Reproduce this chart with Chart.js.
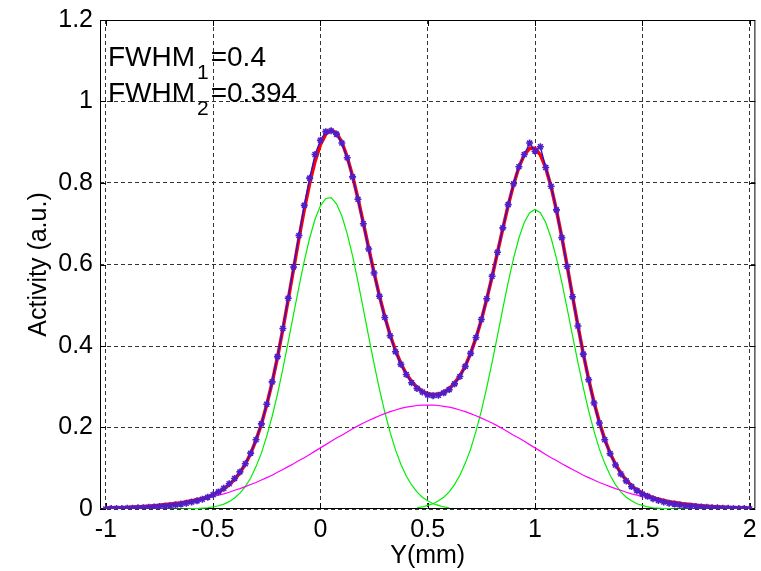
<!DOCTYPE html>
<html>
<head>
<meta charset="utf-8">
<title>Activity profile</title>
<script src="https://cdn.jsdelivr.net/npm/chart.js@4.4.1/dist/chart.umd.min.js"></script>
<style>
  html, body { margin: 0; padding: 0; background: #fff; }
  canvas { display: block; }
</style>
</head>
<body>
<canvas id="profile" width="761" height="571"></canvas>
<script>
// sampling grid of the profile (mm)
const gridStart = -1;
const gridStep = 0.025;

// measured activity, one value per grid step from -1 to 2
const measured = [
  0.000, 0.001, 0.001, 0.001, 0.002, 0.002, 0.003, 0.003, 0.004, 0.005,
  0.006, 0.007, 0.008, 0.010, 0.012, 0.014, 0.017, 0.020, 0.024, 0.029,
  0.035, 0.042, 0.051, 0.062, 0.075, 0.091, 0.111, 0.137, 0.170, 0.209,
  0.257, 0.312, 0.374, 0.443, 0.517, 0.594, 0.671, 0.745, 0.812, 0.870,
  0.905, 0.926, 0.928, 0.920, 0.898, 0.862, 0.815, 0.760, 0.700, 0.638,
  0.579, 0.522, 0.470, 0.425, 0.386, 0.355, 0.330, 0.310, 0.296, 0.287,
  0.280, 0.278, 0.279, 0.285, 0.293, 0.307, 0.325, 0.350, 0.382, 0.421,
  0.465, 0.516, 0.571, 0.630, 0.690, 0.747, 0.798, 0.840, 0.870, 0.898,
  0.878, 0.889, 0.838, 0.792, 0.734, 0.666, 0.595, 0.521, 0.449, 0.380,
  0.317, 0.260, 0.211, 0.170, 0.136, 0.108, 0.086, 0.069, 0.055, 0.045,
  0.037, 0.031, 0.025, 0.021, 0.017, 0.014, 0.012, 0.010, 0.008, 0.007,
  0.006, 0.005, 0.004, 0.003, 0.003, 0.002, 0.002, 0.001, 0.001, 0.001,
  0.000
];

// total fit, same grid
const fitTotal = [
  0.002, 0.003, 0.003, 0.003, 0.004, 0.005, 0.005, 0.006, 0.007, 0.008,
  0.009, 0.011, 0.012, 0.014, 0.015, 0.018, 0.020, 0.023, 0.026, 0.030,
  0.035, 0.042, 0.049, 0.060, 0.072, 0.089, 0.110, 0.136, 0.169, 0.208,
  0.256, 0.310, 0.372, 0.441, 0.514, 0.589, 0.664, 0.735, 0.799, 0.853,
  0.894, 0.920, 0.930, 0.923, 0.900, 0.864, 0.817, 0.762, 0.702, 0.640,
  0.580, 0.523, 0.472, 0.427, 0.389, 0.357, 0.332, 0.313, 0.299, 0.289,
  0.283, 0.281, 0.282, 0.287, 0.295, 0.309, 0.327, 0.351, 0.382, 0.420,
  0.464, 0.515, 0.570, 0.629, 0.688, 0.745, 0.796, 0.839, 0.869, 0.885,
  0.885, 0.869, 0.837, 0.791, 0.733, 0.667, 0.596, 0.522, 0.450, 0.381,
  0.318, 0.262, 0.213, 0.171, 0.137, 0.110, 0.088, 0.071, 0.057, 0.047,
  0.039, 0.033, 0.028, 0.024, 0.021, 0.018, 0.016, 0.014, 0.012, 0.011,
  0.009, 0.008, 0.007, 0.006, 0.005, 0.005, 0.004, 0.003, 0.003, 0.003,
  0.002
];

// broad background component, same grid
const background = [
  0.002, 0.003, 0.003, 0.003, 0.004, 0.005, 0.005, 0.006, 0.007, 0.008,
  0.009, 0.011, 0.012, 0.014, 0.015, 0.017, 0.019, 0.022, 0.024, 0.027,
  0.030, 0.034, 0.037, 0.041, 0.046, 0.050, 0.055, 0.060, 0.065, 0.071,
  0.077, 0.083, 0.090, 0.097, 0.104, 0.111, 0.119, 0.126, 0.134, 0.142,
  0.150, 0.158, 0.166, 0.174, 0.181, 0.189, 0.197, 0.204, 0.211, 0.217,
  0.223, 0.229, 0.234, 0.239, 0.243, 0.247, 0.250, 0.252, 0.254, 0.255,
  0.255, 0.255, 0.254, 0.252, 0.250, 0.247, 0.243, 0.239, 0.234, 0.229,
  0.223, 0.217, 0.211, 0.204, 0.197, 0.189, 0.181, 0.174, 0.166, 0.158,
  0.150, 0.142, 0.134, 0.126, 0.119, 0.111, 0.104, 0.097, 0.090, 0.083,
  0.077, 0.071, 0.065, 0.060, 0.055, 0.050, 0.046, 0.041, 0.037, 0.034,
  0.030, 0.027, 0.024, 0.022, 0.019, 0.017, 0.015, 0.014, 0.012, 0.011,
  0.009, 0.008, 0.007, 0.006, 0.005, 0.005, 0.004, 0.003, 0.003, 0.003,
  0.002
];

// first peak component, grid from -1 to 0.6
const peak1Start = -1;
const peak1 = [
  0.000, 0.000, 0.000, 0.000, 0.000, 0.000, 0.000, 0.000, 0.000, 0.000,
  0.000, 0.000, 0.000, 0.000, 0.000, 0.000, 0.001, 0.001, 0.002, 0.003,
  0.005, 0.008, 0.012, 0.018, 0.027, 0.039, 0.055, 0.076, 0.104, 0.137,
  0.179, 0.227, 0.282, 0.344, 0.410, 0.478, 0.545, 0.609, 0.665, 0.711,
  0.744, 0.762, 0.764, 0.749, 0.719, 0.675, 0.621, 0.558, 0.491, 0.423,
  0.357, 0.294, 0.238, 0.188, 0.145, 0.110, 0.081, 0.059, 0.042, 0.029,
  0.020, 0.013, 0.009, 0.005, 0.003
];

// second peak component, grid from 0.45 to 2
const peak2Start = 0.45;
const peak2 = [
  0.003, 0.005, 0.009, 0.013, 0.020, 0.029, 0.042, 0.060, 0.083, 0.112,
  0.147, 0.191, 0.241, 0.298, 0.360, 0.425, 0.492, 0.556, 0.615, 0.665,
  0.703, 0.727, 0.735, 0.727, 0.703, 0.665, 0.615, 0.556, 0.492, 0.425,
  0.360, 0.298, 0.241, 0.191, 0.147, 0.112, 0.083, 0.060, 0.042, 0.029,
  0.020, 0.013, 0.009, 0.005, 0.003, 0.002, 0.001, 0.001, 0.000, 0.000,
  0.000, 0.000, 0.000, 0.000, 0.000, 0.000, 0.000, 0.000, 0.000, 0.000,
  0.000, 0.000, 0.000
];

const xTickValues = [-1, -0.5, 0, 0.5, 1, 1.5, 2];
const xTickLabels = ['-1', '-0.5', '0', '0.5', '1', '1.5', '2'];
const yTickValues = [0, 0.2, 0.4, 0.6, 0.8, 1, 1.2];
const yTickLabels = ['0', '0.2', '0.4', '0.6', '0.8', '1', '1.2'];

const widths = [
  { sub: '1', text: '=0.4' },
  { sub: '2', text: '=0.394' }
];

const FONT = '"Liberation Sans", Arial, sans-serif';

function onGrid(values, first) {
  return values.map((v, i) => ({ x: first + i * gridStep, y: v }));
}

function line(data, color, width) {
  return {
    data: data,
    borderColor: color,
    borderWidth: width,
    pointRadius: 0,
    fill: false,
    tension: 0
  };
}

// box, inward ticks on all four sides, and the FWHM text
const matlabAxes = {
  id: 'matlabAxes',
  beforeDatasetsDraw(chart) {
    const { ctx, chartArea: a, scales: { x, y } } = chart;
    const t = 6;
    ctx.save();
    ctx.strokeStyle = '#000';
    ctx.lineWidth = 1;
    ctx.setLineDash([]);
    ctx.beginPath();
    ctx.rect(a.left + 0.5, a.top + 0.5, a.right - a.left - 1, a.bottom - a.top - 1);
    xTickValues.forEach(v => {
      const px = Math.round(x.getPixelForValue(v)) + 0.5;
      ctx.moveTo(px, a.bottom);
      ctx.lineTo(px, a.bottom - t);
      ctx.moveTo(px, a.top);
      ctx.lineTo(px, a.top + t);
    });
    yTickValues.forEach(v => {
      const py = Math.round(y.getPixelForValue(v)) + 0.5;
      ctx.moveTo(a.left, py);
      ctx.lineTo(a.left + t, py);
      ctx.moveTo(a.right, py);
      ctx.lineTo(a.right - t, py);
    });
    ctx.stroke();
    ctx.restore();
  },
  afterDatasetsDraw(chart) {
    const { ctx, scales: { x, y } } = chart;
    const left = x.getPixelForValue(-0.99);
    const rows = [1.088, 1.0];
    ctx.save();
    ctx.fillStyle = '#000';
    ctx.textBaseline = 'alphabetic';
    ctx.textAlign = 'left';
    widths.forEach((w, i) => {
      const base = y.getPixelForValue(rows[i]);
      ctx.font = '28px ' + FONT;
      ctx.fillText('FWHM', left, base);
      let cx = left + ctx.measureText('FWHM').width + 2;
      ctx.font = '21px ' + FONT;
      ctx.fillText(w.sub, cx, base + 13);
      cx += ctx.measureText(w.sub).width + 2;
      ctx.font = '28px ' + FONT;
      ctx.fillText(w.text, cx, base);
    });
    ctx.restore();
  }
};

const tickFont = { family: FONT, size: 25 };

new Chart(document.getElementById('profile'), {
  type: 'line',
  data: {
    datasets: [
      Object.assign(line(onGrid(measured, gridStart), 'rgb(30,20,235)', 1.3), {
        pointStyle: 'star',
        pointRadius: 3.5,
        pointBorderColor: 'rgb(80,30,200)',
        pointBorderWidth: 1.6
      }),
      line(onGrid(fitTotal, gridStart), '#ff0000', 3.5),
      line(onGrid(background, gridStart), '#ff00ff', 1.2),
      line(onGrid(peak1, peak1Start), '#00ee00', 1.2),
      line(onGrid(peak2, peak2Start), '#00ee00', 1.2)
    ]
  },
  options: {
    responsive: false,
    animation: false,
    devicePixelRatio: 1,
    layout: { padding: { top: 20, right: 4, left: 0, bottom: 0 } },
    plugins: {
      legend: { display: false },
      tooltip: { enabled: false }
    },
    scales: {
      x: {
        type: 'linear',
        min: -1.027,
        max: 2.027,
        afterBuildTicks: s => { s.ticks = xTickValues.map(v => ({ value: v })); },
        afterFit: s => { s.height = 62; s.paddingLeft = 0; s.paddingRight = 0; },
        ticks: {
          callback: (v, i) => xTickLabels[i],
          font: tickFont,
          color: '#000',
          padding: 6,
          maxRotation: 0,
          autoSkip: false
        },
        grid: { color: '#333', lineWidth: 1, drawTicks: false },
        border: { display: false, dash: [4, 3] },
        title: {
          display: true,
          text: 'Y(mm)',
          font: { family: FONT, size: 25 },
          color: '#000',
          padding: { top: 0, bottom: 0 }
        }
      },
      y: {
        min: 0,
        max: 1.2,
        afterBuildTicks: s => { s.ticks = yTickValues.map(v => ({ value: v })); },
        afterFit: s => { s.width = 100; s.paddingTop = 0; s.paddingBottom = 0; },
        ticks: {
          callback: (v, i) => yTickLabels[i],
          font: tickFont,
          color: '#000',
          padding: 7
        },
        grid: { color: '#333', lineWidth: 1, drawTicks: false },
        border: { display: false, dash: [4, 3] },
        title: {
          display: true,
          text: 'Activity (a.u.)',
          font: { family: FONT, size: 25 },
          color: '#000',
          padding: { top: 24, bottom: 0 }
        }
      }
    }
  },
  plugins: [matlabAxes]
});
</script>
</body>
</html>
